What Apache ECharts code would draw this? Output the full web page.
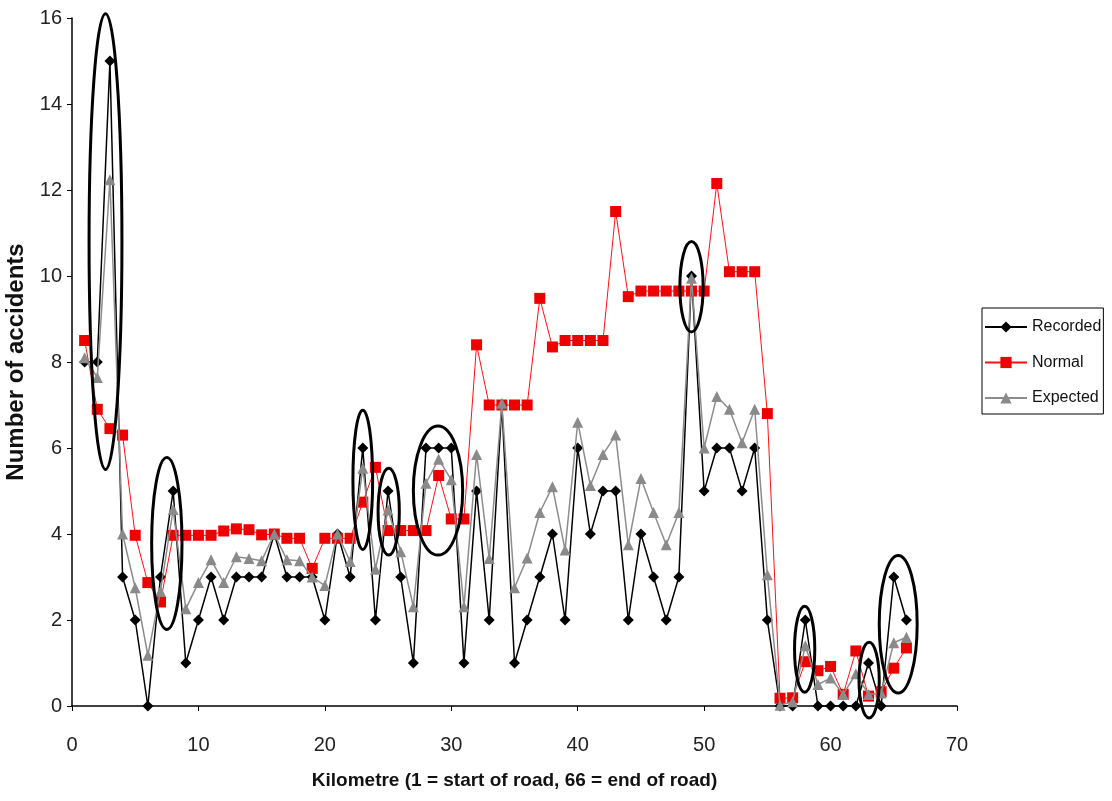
<!DOCTYPE html>
<html>
<head>
<meta charset="utf-8">
<script src="https://cdn.jsdelivr.net/npm/echarts@6/dist/echarts.min.js"></script>
<style>
html,body{margin:0;padding:0;background:#fff;}
#chart{width:1112px;height:801px;}
</style>
</head>
<body>
<div id="chart"></div>
<script>
const kilometres = [1,2,3,4,5,6,7,8,9,10,11,12,13,14,15,16,17,18,19,20,21,22,23,24,25,26,27,28,29,30,31,32,33,34,35,36,37,38,39,40,41,42,43,44,45,46,47,48,49,50,51,52,53,54,55,56,57,58,59,60,61,62,63,64,65,66];

const recorded = [8,8,15,3,2,0,3,5,1,2,3,2,3,3,3,4,3,3,3,2,4,3,6,2,5,3,1,6,6,6,1,5,2,7,1,2,3,4,2,6,4,5,5,2,4,3,2,3,10,5,6,6,5,6,2,0,0,2,0,0,0,0,1,0,3,2];

const normal = [8.5,6.9,6.45,6.3,3.97,2.87,2.42,3.97,3.97,3.97,3.97,4.07,4.12,4.1,3.98,4.0,3.9,3.9,3.2,3.9,3.9,3.9,4.74,5.55,4.08,4.08,4.08,4.08,5.36,4.35,4.35,8.4,7.0,7.0,7.0,7.0,9.48,8.35,8.5,8.5,8.5,8.5,11.5,9.52,9.65,9.65,9.65,9.65,9.65,9.65,12.15,10.1,10.1,10.1,6.8,0.18,0.19,1.03,0.82,0.92,0.27,1.28,0.23,0.33,0.88,1.35];

const expected = [8.1,7.64,12.24,4.0,2.75,1.18,2.67,4.57,2.26,2.87,3.4,2.87,3.47,3.43,3.38,4.0,3.4,3.38,3.0,2.8,4.0,3.36,5.53,3.18,4.56,3.59,2.31,5.18,5.74,5.26,2.31,5.85,3.43,7.04,2.75,3.44,4.5,5.1,3.63,6.6,5.13,5.85,6.3,3.75,5.29,4.5,3.75,4.5,9.95,6.0,7.2,6.9,6.12,6.9,3.05,0.02,0.1,1.4,0.5,0.65,0.27,0.75,0.27,0.3,1.47,1.6];

// circled groups: [centre km, centre accidents, half-width km, half-height accidents]
const circledRegions = [
  [2.65,10.8,1.3,5.3],
  [7.5,3.78,1.2,2.0],
  [23.0,5.26,0.78,1.62],
  [25.05,4.52,0.84,1.01],
  [28.95,5.01,1.95,1.5],
  [49.0,9.75,0.92,1.05],
  [57.95,1.32,0.8,1.0],
  [63.05,0.6,0.8,0.88],
  [65.35,1.9,1.5,1.6]
];

const seriesNames = ['Recorded','Normal','Expected'];
const xTicks = {min:0, max:70, interval:10};
const yTicks = {min:0, max:16, interval:2};

function pairs(vals){ return kilometres.map((k,i)=>[k, vals[i]]); }

const font = '"Liberation Sans",Arial,Helvetica,sans-serif';

const chart = echarts.init(document.getElementById('chart'), null, {renderer:'canvas'});
chart.setOption({
  backgroundColor:'#fff',
  animation:false,
  grid:{left:72, top:18, width:885, height:688, containLabel:false, outerBoundsMode:'none'},
  legend:{
    data:seriesNames,
    orient:'vertical',
    left:982, top:308,
    padding:[8,2,5,2],
    itemGap:13.5,
    itemWidth:42, itemHeight:14,
    borderColor:'#000', borderWidth:1,
    textStyle:{fontFamily:font, fontSize:16, lineHeight:22, color:'#111'}
  },
  xAxis:{
    type:'value', min:xTicks.min, max:xTicks.max, interval:xTicks.interval,
    name:'Kilometre (1 = start of road, 66 = end of road)',
    nameLocation:'middle', nameGap:65,
    nameTextStyle:{fontFamily:font, fontWeight:'bold', fontSize:19, color:'#111'},
    axisLine:{lineStyle:{color:'#000', width:1.5}},
    axisTick:{show:true, length:5, lineStyle:{color:'#000'}},
    axisLabel:{fontFamily:font, fontSize:20, color:'#222', margin:29},
    splitLine:{show:false}
  },
  yAxis:{
    type:'value', min:yTicks.min, max:yTicks.max, interval:yTicks.interval,
    name:'Number of accidents',
    nameLocation:'middle', nameGap:42,
    nameTextStyle:{fontFamily:font, fontWeight:'bold', fontSize:24, color:'#111'},
    axisLine:{show:true, lineStyle:{color:'#000', width:1.5}},
    axisTick:{show:true, length:5, lineStyle:{color:'#000'}},
    axisLabel:{fontFamily:font, fontSize:20, color:'#222', margin:10},
    splitLine:{show:false}
  },
  series:[
    {
      name:'Recorded', type:'line', data:pairs(recorded), z:2,
      symbol:'diamond', symbolSize:11,
      lineStyle:{color:'#000', width:1.5},
      itemStyle:{color:'#000'}
    },
    {
      name:'Normal', type:'line', data:pairs(normal), z:3,
      symbol:'rect', symbolSize:11,
      lineStyle:{color:'#ff1010', width:1},
      itemStyle:{color:'#ee0000'}
    },
    {
      name:'Expected', type:'line', data:pairs(expected), z:4,
      symbol:'triangle', symbolSize:11,
      lineStyle:{color:'#8c8c8c', width:1.5},
      itemStyle:{color:'#8a8a8a'}
    },
    {
      name:'circles', type:'custom', data:circledRegions, z:10, silent:true,
      encode:{x:0, y:1},
      renderItem:function(params, api){
        const c = api.coord([api.value(0), api.value(1)]);
        const s = api.size([api.value(2), api.value(3)]);
        return {type:'ellipse', shape:{cx:c[0], cy:c[1], rx:s[0], ry:s[1]},
          style:{fill:null, stroke:'#000', lineWidth:3}};
      }
    }
  ]
});
</script>
</body>
</html>
